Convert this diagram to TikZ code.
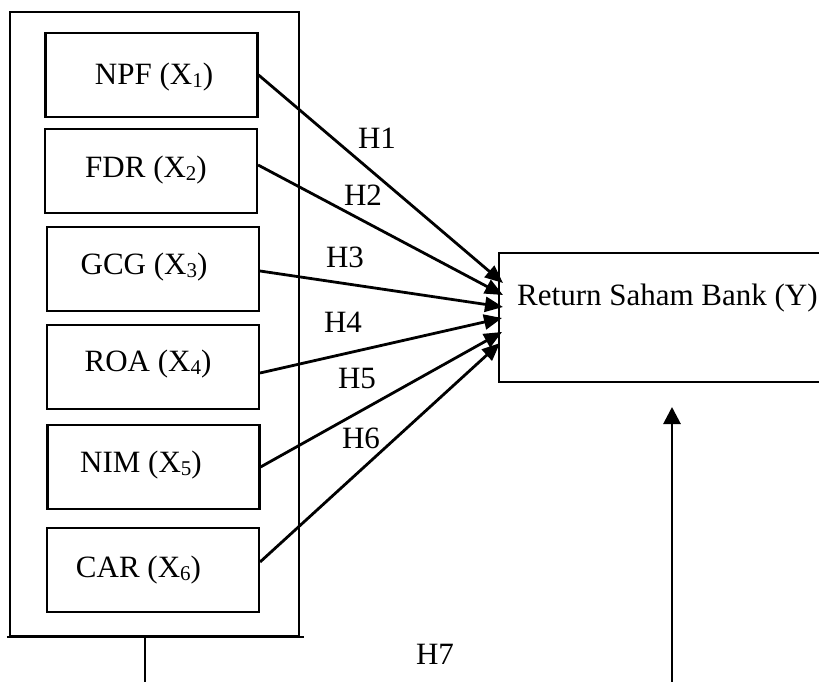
\documentclass[tikz,border=0pt]{standalone}
\usepackage{fontspec}
\setmainfont{Liberation Serif}
\usetikzlibrary{arrows.meta}

% lowered index digit, as in X1
\newcommand\idx[1]{\raisebox{-3pt}{\fontsize{21}{21}\selectfont #1}}

\begin{document}
\begin{tikzpicture}[x=1pt,y=-1pt,
  txt/.style={font=\fontsize{31}{36}\selectfont, inner sep=0pt},
  varbox/.style={draw, line width=2.1pt, minimum width=212pt, minimum height=84pt,
    inner sep=0pt},
  hyp/.style={line width=2.8pt, -{Triangle[length=18pt,width=15pt]}},
  lbl/.style={txt}]

\useasboundingbox (0,0) rectangle (819,682);
\clip (0,0) rectangle (819,682);

% group of independent variables
\node[draw, line width=2.1pt, minimum width=289pt, minimum height=624pt, inner sep=0pt]
  (grp) at (154.5,324) {};
\draw[line width=2.8pt] ([xshift=-2pt]grp.south west) -- ([xshift=4pt]grp.south east);

\node[varbox] (npf) at (151.5,75)  {};
\node[varbox] (fdr) at (151,171)   {};
\node[varbox] (gcg) at (153,269)   {};
\node[varbox] (roa) at (153,367)   {};
\node[varbox] (nim) at (153.5,467) {};
\node[varbox] (car) at (153,570)   {};

\node[txt] (npft) at (154,77)  {NPF (X\idx{1})};
\node[txt] (fdrt) at (146,170) {FDR (X\idx{2})};
\node[txt] (gcgt) at (144,267) {GCG (X\idx{3})};
\node[txt] (roat) at (148,364) {ROA (X\idx{4})};
\node[txt] (nimt) at (141,465) {NIM (X\idx{5})};
\node[txt] (cart) at (138.5,570) {CAR (X\idx{6})};

% dependent variable
\node[draw, line width=2.1pt, minimum width=400pt, minimum height=129pt, inner sep=0pt,
  anchor=north west] (y) at (498,252) {};
\node[txt, anchor=west] (ytext) at (517,298) {Return Saham Bank (Y)};

% arrow heads meet the left side of the Y box
\coordinate (t1) at (503,283);
\coordinate (t2) at (503,295);
\coordinate (t3) at (503,307);
\coordinate (t4) at (502,318);
\coordinate (t5) at (502,332);
\coordinate (t6) at (500,343);

\draw[hyp] (npf.east) -- (t1);
\draw[hyp] ([yshift=6pt]fdr.east) -- (t2);
\draw[hyp] ([yshift=-2pt]gcg.east) -- (t3);
\draw[hyp] ([yshift=-6pt]roa.east) -- (t4);
\draw[hyp] (nim.east) -- (t5);
\draw[hyp] ([yshift=8pt]car.east) -- (t6);

\node[lbl] (h1) at (377,138) {H1};
\node[lbl] (h2) at (363,195) {H2};
\node[lbl] (h3) at (345,257) {H3};
\node[lbl] (h4) at (343,322) {H4};
\node[lbl] (h5) at (357,378) {H5};
\node[lbl] (h6) at (361,438) {H6};
\node[lbl] (h7) at (435,654) {H7};

% H7 path: from the group down, and up into Y
\coordinate (stubend) at (145,682);
\draw[line width=2.4pt] (stubend |- grp.south) -- (stubend);
\coordinate (upfoot) at (672,682);
\coordinate (uptip) at (672,407);
\draw[line width=2.8pt, -{Triangle[length=17pt,width=17pt]}] (upfoot) -- (uptip);
\end{tikzpicture}
\end{document}
